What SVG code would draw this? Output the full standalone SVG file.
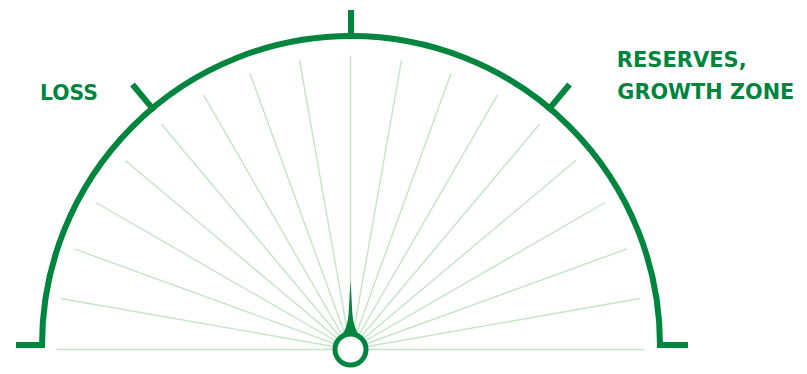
<svg xmlns="http://www.w3.org/2000/svg" width="807" height="374" viewBox="0 0 807 374">
  <style>
    .dial { fill: none; stroke: #00853f; stroke-width: 6; stroke-linecap: butt; stroke-linejoin: miter; }
    .ray { fill: none; stroke: #c4e4c7; stroke-width: 1.4; }
    .label { font-family: "DejaVu Sans", "Liberation Sans", sans-serif; font-weight: bold; font-size: 20.5px; fill: #00853f; }
  </style>
  <rect width="807" height="374" fill="#ffffff"/>
  <g id="rays">
    <path class="ray" d="M350.5 349.5 L644.5 349.5 M350.5 349.5 L56.5 349.5
      M350.5 349.5 L640.03 298.45 M350.5 349.5 L60.97 298.45
      M350.5 349.5 L626.77 248.95 M350.5 349.5 L74.23 248.95
      M350.5 349.5 L605.11 202.5 M350.5 349.5 L95.89 202.5
      M350.5 349.5 L575.72 160.52 M350.5 349.5 L125.28 160.52
      M350.5 349.5 L539.48 124.28 M350.5 349.5 L161.52 124.28
      M350.5 349.5 L497.5 94.89 M350.5 349.5 L203.5 94.89
      M350.5 349.5 L451.05 73.23 M350.5 349.5 L249.95 73.23
      M350.5 349.5 L401.55 59.97 M350.5 349.5 L299.45 59.97
      M350.5 349.5 L350.5 55.5"/>
  </g>
  <g id="dial">
    <path class="dial" d="M16 345 H42 A309 309 0 0 1 660 345 H688"/>
    <path class="dial" d="M351 10 V37"/>
    <path class="dial" d="M132.5 84.5 L154.3 110.6"/>
    <path class="dial" d="M569.5 84.5 L547.7 110.6"/>
  </g>
  <g id="needle">
    <path d="M350.5 280 L352.4 314 Q353.5 327 359 335 L342 335 Q347.5 327 348.6 314 Z" fill="#00853f"/>
    <circle cx="350.5" cy="349.5" r="15.5" fill="#ffffff" stroke="#00853f" stroke-width="5"/>
  </g>
  <g id="label-loss">
    <text class="label" x="40" y="99.5" textLength="58" lengthAdjust="spacingAndGlyphs">LOSS</text>
  </g>
  <g id="label-reserves">
    <text class="label" x="616.7" y="66.5" textLength="130" lengthAdjust="spacingAndGlyphs">RESERVES,</text>
    <text class="label" x="617.3" y="98.5" textLength="177" lengthAdjust="spacingAndGlyphs">GROWTH ZONE</text>
  </g>
</svg>
